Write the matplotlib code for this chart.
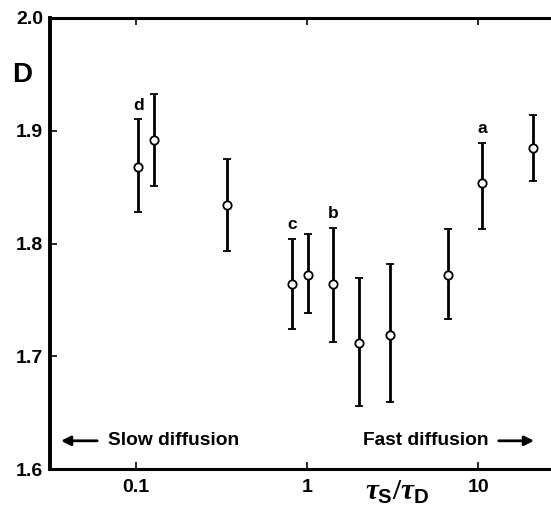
import matplotlib
matplotlib.use('Agg')
import matplotlib.pyplot as plt

plt.rcParams['font.family'] = ['Liberation Sans', 'DejaVu Sans']
plt.rcParams['font.weight'] = 'bold'
plt.rcParams['mathtext.fontset'] = 'custom'
plt.rcParams['mathtext.it'] = 'Liberation Serif:italic'
plt.rcParams['mathtext.rm'] = 'Liberation Serif'
plt.rcParams['mathtext.sf'] = 'Liberation Sans:bold'

# Data
ratio = [0.104, 0.128, 0.342, 0.818, 1.01, 1.42, 2.01, 3.05, 6.64, 10.5, 20.8]
D = [1.868, 1.892, 1.834, 1.764, 1.772, 1.764, 1.712, 1.719, 1.772, 1.854, 1.885]
D_hi = [1.910, 1.933, 1.875, 1.804, 1.808, 1.814, 1.769, 1.782, 1.813, 1.889, 1.914]
D_lo = [1.828, 1.851, 1.793, 1.724, 1.738, 1.713, 1.656, 1.659, 1.733, 1.813, 1.855]
tags = {0: 'd', 3: 'c', 5: 'b', 9: 'a'}

err_lo = [d - l for d, l in zip(D, D_lo)]
err_hi = [h - d for d, h in zip(D, D_hi)]

fig = plt.figure(figsize=(5.51, 5.08), dpi=100)
ax = fig.add_axes([50/551, 1 - 469/508, 1 - 50/551, (469 - 18)/508])

ax.errorbar(ratio, D, yerr=[err_lo, err_hi], fmt='o', color='black',
            mfc='white', mec='black', mew=1.3, ms=6, elinewidth=2.0,
            capsize=3, capthick=1.5)

for i, t in tags.items():
    ax.text(ratio[i], D_hi[i] + 0.006, t, ha='center', va='bottom',
            fontsize=12.5, fontweight='bold')

ax.set_xscale('log')
ax.set_xlim(0.0317, 26.5)
ax.set_ylim(1.6, 2.0)
ax.set_xticks([0.1, 1, 10])
ax.set_xticklabels(['0.1', '1', '10'])
ax.set_yticks([1.6, 1.7, 1.8, 1.9, 2.0])
ax.set_yticklabels(['1.6', '1.7', '1.8', '1.9', '2.0'])
ax.minorticks_off()
ax.tick_params(axis='both', direction='in', length=5, width=1.2,
               labelsize=14)
ax.tick_params(axis='x', top=True, pad=7)
ax.tick_params(axis='y', pad=5)
for lab in ax.get_xticklabels() + ax.get_yticklabels():
    lab.set_fontweight('bold')

ax.spines['right'].set_visible(False)
ax.spines['left'].set_linewidth(2.8)
ax.spines['top'].set_linewidth(2.2)
ax.spines['bottom'].set_linewidth(2.2)

fig.text(22/551, 1 - 75/508, 'D', ha='center', va='center',
         fontsize=20, fontweight='bold')
fig.text(397/551, 2/508, r'$\tau_\mathsf{S}/\tau_\mathsf{D}$',
         ha='center', va='bottom', fontsize=21, fontweight='normal')

ax.annotate('', xy=(0.0354, 1.625), xytext=(0.062, 1.625),
            arrowprops=dict(arrowstyle='-|>', color='black', lw=2,
                            mutation_scale=14))
ax.text(0.0688, 1.625, 'Slow diffusion', ha='left', va='center',
        fontsize=13.8, fontweight='bold')
ax.annotate('', xy=(21.9, 1.625), xytext=(12.65, 1.625),
            arrowprops=dict(arrowstyle='-|>', color='black', lw=2,
                            mutation_scale=14))
ax.text(11.4, 1.625, 'Fast diffusion', ha='right', va='center',
        fontsize=13.8, fontweight='bold')

fig.savefig('out.png', dpi=100)
